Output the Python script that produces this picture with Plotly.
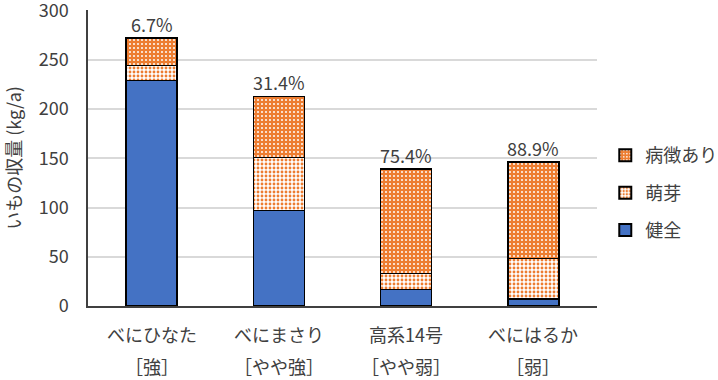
import plotly.graph_objects as go

categories = ["べにひなた", "べにまさり", "高系14号", "べにはるか"]
resistance = ["［強］", "［やや強］", "［やや弱］", "［弱］"]
healthy = [229, 97, 17, 7]
sprout = [15, 54, 16, 41]
disease = [28, 62, 106, 98]
pct_labels = ["6.7%", "31.4%", "75.4%", "88.9%"]
y_ticks = [0, 50, 100, 150, 200, 250, 300]

FONT = "Noto Sans CJK JP"
ORANGE = "#ED7D31"
BLUE = "#4472C4"
TXT = "#404040"
x = list(range(len(categories)))

fig = go.Figure()
fig.add_trace(go.Bar(x=x, y=healthy, name="健全", width=0.4, legendgroup="a", legendrank=3,
                     marker=dict(color=BLUE, line=dict(color="black", width=1.5))))
fig.add_trace(go.Bar(x=x, y=sprout, name="萌芽", width=0.4, legendgroup="b", legendrank=2,
                     marker=dict(color="white", line=dict(color="black", width=1.5),
                                 pattern=dict(shape=".", bgcolor="white", fgcolor=ORANGE,
                                              size=4, solidity=0.4, fillmode="replace"))))
fig.add_trace(go.Bar(x=x, y=disease, name="病徴あり", width=0.4, legendgroup="c", legendrank=1,
                     marker=dict(color=ORANGE, line=dict(color="black", width=1.5),
                                 pattern=dict(shape=".", bgcolor=ORANGE, fgcolor="white",
                                              size=4, solidity=0.2, fillmode="replace"))))

totals = [h + s + d for h, s, d in zip(healthy, sprout, disease)]
for i, t in enumerate(totals):
    fig.add_annotation(x=i, y=t, text=pct_labels[i], showarrow=False, yanchor="bottom",
                       yshift=-1, font=dict(size=18, color=TXT, family=FONT))
for i in x:
    fig.add_annotation(x=i, y=0, yref="paper", text=categories[i], showarrow=False,
                       yanchor="middle", yshift=-28, font=dict(size=18, color=TXT, family=FONT))
    fig.add_annotation(x=i, y=0, yref="paper", text=resistance[i], showarrow=False,
                       yanchor="middle", yshift=-60, font=dict(size=18, color=TXT, family=FONT))

fig.update_layout(
    barmode="stack",
    width=718, height=380,
    margin=dict(l=88, r=121, t=10, b=74, autoexpand=False),
    paper_bgcolor="white", plot_bgcolor="white",
    font=dict(family=FONT, size=18, color=TXT),
    legend=dict(xref="container", yref="container", x=0.843, y=0.492,
                yanchor="middle", xanchor="left",
                font=dict(size=18), itemsizing="constant", tracegroupgap=11,
                itemwidth=30),
    showlegend=True,
)
fig.update_xaxes(range=[-0.5, 3.5], showticklabels=False, showgrid=False,
                 showline=True, linecolor=TXT, linewidth=1.5, ticks="", zeroline=False)
fig.update_yaxes(range=[0, 300.6], tickvals=y_ticks, showgrid=True, gridcolor="#d9d9d9",
                 gridwidth=1.5, showline=True, linecolor=TXT, linewidth=1.5,
                 ticks="", zeroline=False, tickfont=dict(size=18), ticklabeloverflow="allow",
                 ticklabelstandoff=14,
                 title=dict(text="いもの収量 (kg/a)", font=dict(size=18), standoff=14))

fig.write_html("out.html", config={"displayModeBar": False},
               post_script="document.body.style.margin='0';")
